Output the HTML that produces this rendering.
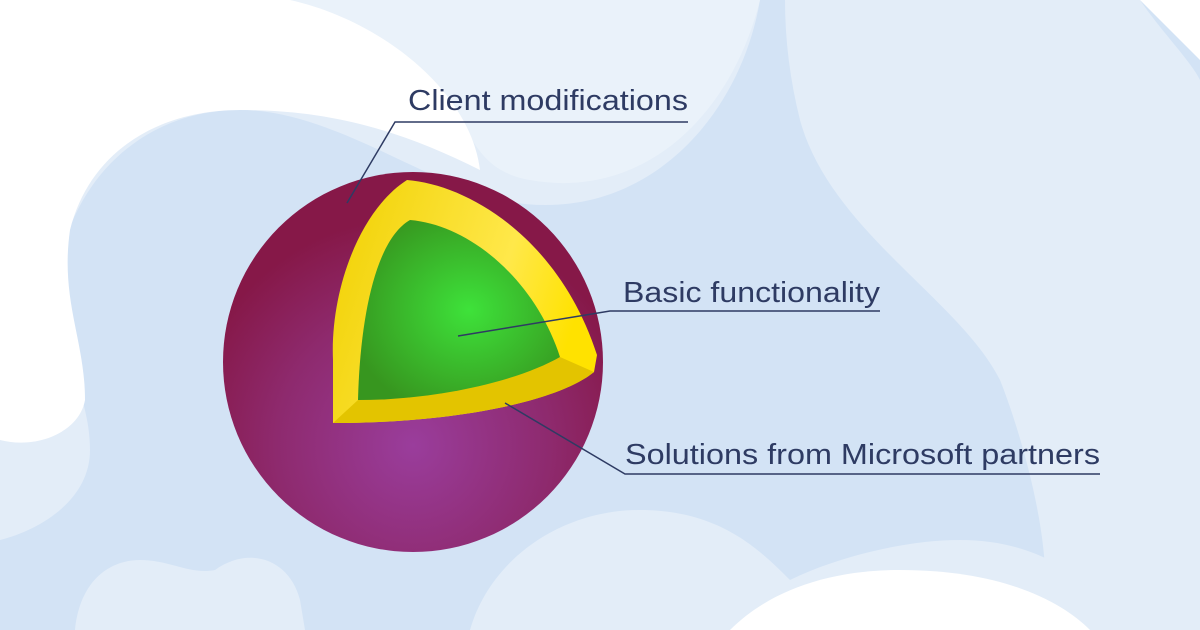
<!DOCTYPE html>
<html><head><meta charset="utf-8"><style>
html,body{margin:0;padding:0;width:1200px;height:630px;overflow:hidden;background:#d3e3f5}
svg{display:block}
text{font-family:"Liberation Sans",sans-serif;font-size:29px;fill:#2e3b63}
</style></head><body>
<svg width="1200" height="630" viewBox="0 0 1200 630">
<defs>
<radialGradient id="pg" cx="0.5" cy="0.72" r="0.6">
<stop offset="0" stop-color="#9a3d9c"/><stop offset="0.6" stop-color="#8e2a6e"/><stop offset="1" stop-color="#861848"/>
</radialGradient>
<radialGradient id="gg" cx="0.55" cy="0.5" r="0.6">
<stop offset="0" stop-color="#3ee23a"/><stop offset="1" stop-color="#37961f"/>
</radialGradient>
<linearGradient id="yg" x1="0" y1="0" x2="1" y2="0.3">
<stop offset="0" stop-color="#f0d000"/><stop offset="0.7" stop-color="#ffe84a"/><stop offset="1" stop-color="#ffe200"/>
</linearGradient>
</defs>
<rect width="1200" height="630" fill="#d3e3f5"/>
<path d="M0 0 H760 C740 120 640 230 500 200 C420 180 330 110 240 110 C150 110 80 170 60 260 C40 330 90 380 90 450 C90 500 40 530 0 540 Z" fill="#e3edf8"/>
<path d="M280 0 H760 C730 120 640 200 530 180 C470 170 470 120 440 90 C400 40 330 10 280 0 Z" fill="#eaf2fa"/>
<path d="M0 0 H290 C380 20 470 90 480 170 C400 130 330 110 240 110 C160 110 90 150 70 230 C60 300 85 340 85 400 C80 430 40 450 0 440 Z" fill="#ffffff"/>
<path d="M785 0 H1140 C1160 30 1190 60 1200 80 V630 H1040 C1060 560 1020 430 1000 380 C960 300 830 230 800 120 C790 80 785 40 785 0 Z" fill="#e3edf8"/>
<path d="M1140 0 H1200 V60 Z" fill="#ffffff"/>
<path d="M470 630 C490 560 560 510 640 510 C720 510 760 550 790 580 C830 560 900 540 960 540 C1050 540 1100 590 1120 630 Z" fill="#e3edf8"/>
<path d="M730 630 C770 590 830 570 900 570 C1000 570 1060 600 1090 630 Z" fill="#ffffff"/>
<path d="M75 630 C80 580 110 560 140 560 C170 560 190 575 215 570 C250 545 290 560 300 600 L305 630 Z" fill="#e3edf8"/>
<circle cx="413" cy="362" r="190" fill="url(#pg)"/>
<path d="M407 180 C470 185 560 240 597 355 L594 372 C560 400 460 423 333 423 L333 360 C330 290 360 210 407 180 Z" fill="url(#yg)"/>
<path d="M333 423 L358 400 L560 357 L594 372 C560 400 460 423 333 423 Z" fill="#e3c400"/>
<path d="M410 220 C470 225 535 280 560 357 C520 380 440 400 358 400 C360 320 375 240 410 220 Z" fill="url(#gg)"/>
<g stroke="#2e3b63" stroke-width="1.5" fill="none">
<polyline points="347,203 395,122 688,122"/>
<polyline points="458,336 610,311 880,311"/>
<polyline points="505,403 625,474 1100,474"/>
</g>
<text x="408" y="110" textLength="280" lengthAdjust="spacingAndGlyphs">Client modifications</text>
<text x="623" y="302" textLength="257" lengthAdjust="spacingAndGlyphs">Basic functionality</text>
<text x="625" y="464" textLength="475" lengthAdjust="spacingAndGlyphs">Solutions from Microsoft partners</text>
</svg>
</body></html>
